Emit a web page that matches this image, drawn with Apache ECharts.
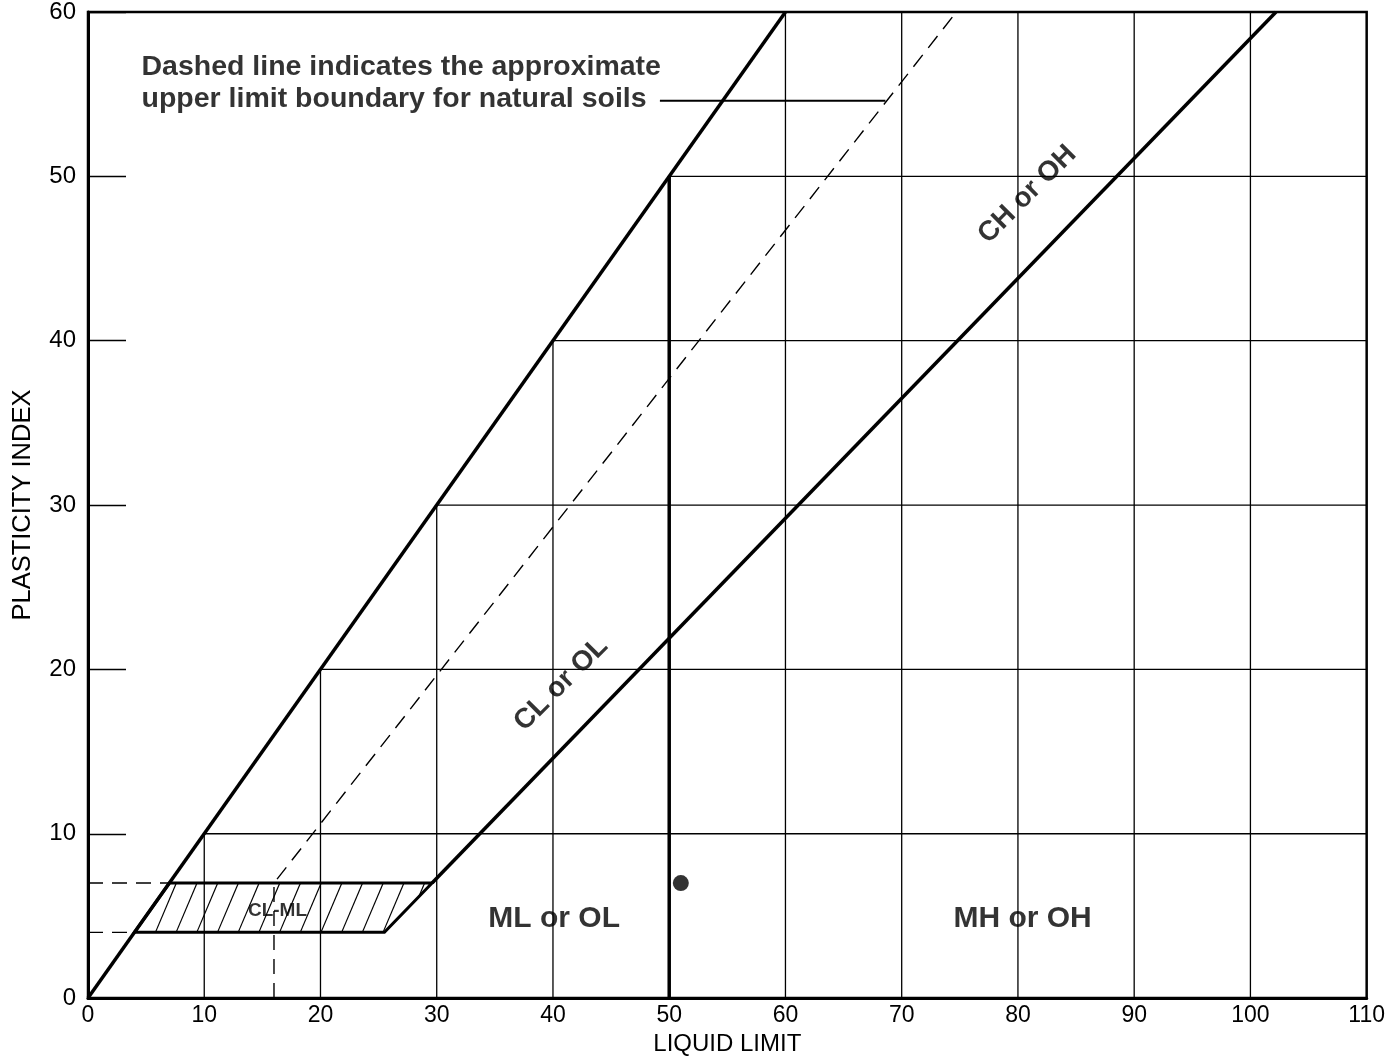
<!DOCTYPE html>
<html><head><meta charset="utf-8">
<script src="https://cdn.jsdelivr.net/npm/echarts@6/dist/echarts.min.js"></script>
<style>html,body{margin:0;padding:0;background:#fff}#c{width:1388px;height:1061px}</style>
</head><body><div id="c"></div>
<script>
// ---- data ----
const xTicks = [0, 10, 20, 30, 40, 50, 60, 70, 80, 90, 100, 110];
const yTicks = [0, 10, 20, 30, 40, 50, 60];
const maxLine = [[0, 0], [60, 60]];                 // PI = LL boundary
const aLine = [[29.6, 7], [102.2, 60]];             // A-line
const uLine = [[16, 0], [16, 7], [74.7, 60]];       // U-line (dashed)
const llFifty = [[50, 0], [50, 50]];                // LL = 50
const clmlZone = [[4, 4], [25.5, 4], [29.6, 7], [7, 7]];
const guideSeven = [[0, 7], [7, 7]];
const guideFour = [[0, 4], [4, 4]];
const leader = [[49.2, 54.6], [68.6, 54.6]];
const samplePoints = [[51, 7]];
const zoneLabels = [{ name: 'ML or OL', value: [40.1, 4.85] }, { name: 'MH or OH', value: [80.4, 4.85] }];
const lineLabels = [{ name: 'CL or OL', value: [40.7, 19.1] }, { name: 'CH or OH', value: [80.8, 48.9] }];
const hatchLabel = [{ name: 'CL-ML', value: [16.3, 5.3] }];
const note = [{ name: 'Dashed line indicates the approximate\nupper limit boundary for natural soils', value: [4.6, 55.65] }];

// grid segments only below the PI = LL boundary
const xMax = xTicks[xTicks.length - 1], yMax = yTicks[yTicks.length - 1];
const gridSegs = [];
xTicks.slice(1, -1).forEach(x => gridSegs.push({ coords: [[x, 0], [x, Math.min(x, yMax)]] }));
yTicks.slice(1, -1).forEach(y => gridSegs.push({ coords: [[y, y], [xMax, y]] }));

const FONT = 'Liberation Sans, Arial, Helvetica, sans-serif';
const chart = echarts.init(document.getElementById('c'));

function renderHatch(params, api) {
  const pts = clmlZone.map(p => api.coord(p));
  const children = [];
  const bl = clmlZone[0], br = clmlZone[1], tr = clmlZone[2], tl = clmlZone[3];
  const y0 = bl[1], y1 = tl[1];
  const dl = tl[0] - bl[0], dr = tr[0] - br[0];
  const lean = 1.8, step = 1.78;
  for (let xb = 5.8 - step * 3; xb < tr[0] + 2; xb += step) {
    const t0 = Math.max(0, (xb - br[0]) / (dr - lean));
    const t1 = Math.min(1, (xb - bl[0]) / (dl - lean));
    if (t1 <= t0) continue;
    const p0 = api.coord([xb + lean * t0, y0 + (y1 - y0) * t0]);
    const p1 = api.coord([xb + lean * t1, y0 + (y1 - y0) * t1]);
    children.push({ type: 'line', shape: { x1: p0[0], y1: p0[1], x2: p1[0], y2: p1[1] }, style: { stroke: '#000', lineWidth: 1.2 } });
  }
  children.push({ type: 'polygon', shape: { points: pts }, style: { fill: null, stroke: '#000', lineWidth: 3 } });
  return { type: 'group', children };
}

const lineS = (coords, width, type, z) => ({
  type: 'lines', coordinateSystem: 'cartesian2d', polyline: true, silent: true, z: z || 3,
  data: [{ coords }], lineStyle: { color: '#000', width, type: type || 'solid', opacity: 1 }
});

chart.setOption({
  animation: false,
  backgroundColor: '#fff',
  grid: { left: 88, right: 17, top: 9, bottom: 60, show: true, borderColor: '#000', borderWidth: 2.5, backgroundColor: 'transparent' },
  xAxis: {
    type: 'value', min: 0, max: 110, interval: 10,
    name: 'LIQUID LIMIT', nameLocation: 'middle', nameGap: 31,
    nameTextStyle: { fontFamily: FONT, fontSize: 24, color: '#000' },
    axisLine: { lineStyle: { color: '#000', width: 3 } },
    axisTick: { show: false }, splitLine: { show: false },
    axisLabel: { fontFamily: FONT, fontSize: 23, color: '#000', margin: 6 }
  },
  yAxis: {
    type: 'value', min: 0, max: 60, interval: 10,
    name: 'PLASTICITY INDEX', nameLocation: 'middle', nameGap: 52,
    nameTextStyle: { fontFamily: FONT, fontSize: 25.5, color: '#000' },
    axisLine: { lineStyle: { color: '#000', width: 3 } },
    axisTick: { show: true, inside: true, length: 38, lineStyle: { color: '#000', width: 1.3 } },
    splitLine: { show: false },
    axisLabel: { fontFamily: FONT, fontSize: 24, color: '#000', margin: 12 }
  },
  series: [
    { type: 'lines', coordinateSystem: 'cartesian2d', polyline: true, silent: true, z: 2, data: gridSegs, lineStyle: { color: '#000', width: 1.3, opacity: 1 } },
    lineS(uLine, 1.4, [15, 9]),
    lineS(guideSeven, 1.4, [15, 9]),
    lineS(guideFour, 1.4, [15, 9]),
    lineS(leader, 2),
    { type: 'custom', coordinateSystem: 'cartesian2d', renderItem: renderHatch, data: [[0, 0]], silent: true, z: 4, clip: false },
    lineS(maxLine, 3.5, 'solid', 5),
    lineS(aLine, 3.5, 'solid', 5),
    lineS(llFifty, 3.5, 'solid', 5),
    { type: 'scatter', data: samplePoints, symbol: 'circle', symbolSize: 16, itemStyle: { color: '#000' }, z: 6, silent: true },
    { type: 'scatter', data: zoneLabels, symbolSize: 0, silent: true, z: 7,
      label: { show: true, position: 'inside', formatter: '{b}', fontFamily: FONT, fontSize: 30, fontWeight: 'bold', color: '#000' } },
    { type: 'scatter', data: lineLabels, symbolSize: 0, silent: true, z: 7,
      label: { show: true, position: 'inside', formatter: '{b}', rotate: 45, fontFamily: FONT, fontSize: 28, fontWeight: 'bold', color: '#000' } },
    { type: 'scatter', data: hatchLabel, symbolSize: 0, silent: true, z: 7,
      label: { show: true, position: 'inside', formatter: '{b}', fontFamily: FONT, fontSize: 19, fontWeight: 'bold', color: '#000' } },
    { type: 'scatter', data: note, symbolSize: 0, silent: true, z: 7,
      label: { show: true, position: 'right', distance: 0, align: 'left', verticalAlign: 'middle', formatter: '{b}', lineHeight: 32, fontFamily: FONT, fontSize: 28.5, fontWeight: 'bold', color: '#000' } }
  ]
});
</script>
</body></html>
